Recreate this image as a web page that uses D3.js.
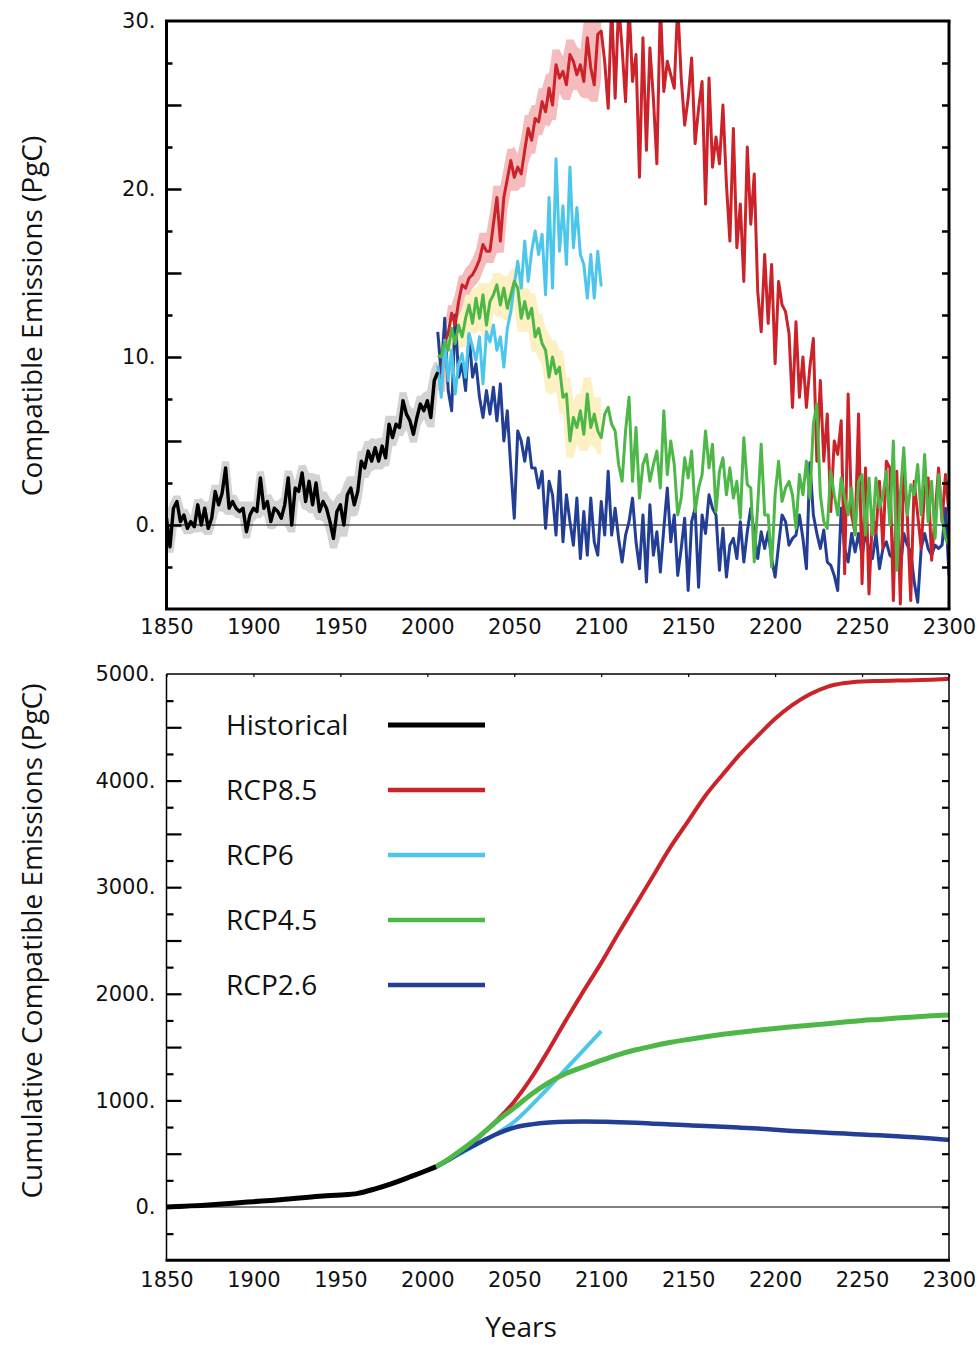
<!DOCTYPE html>
<html>
<head>
<meta charset="utf-8">
<script src="https://cdn.jsdelivr.net/npm/d3@7"></script>
<style>
  body { margin: 0; background: #fff; }
  .tick text { font-family: "DejaVu Sans", sans-serif; font-size: 21px; fill: #111; }
  .axis-title { font-family: "Open Sans", sans-serif; font-size: 28px; fill: #111; }
  .legend text { font-family: "Open Sans", sans-serif; font-size: 28px; fill: #111; }
</style>
</head>
<body>
<svg id="chart" width="980" height="1345"></svg>
<script>
// annual compatible emissions (PgC), one value every 2 years
const histStart = 1850, scenStart = 2006, yearStep = 2

const histEmis = [
  0.4, -1.3, 1.0, 1.4, 0.2, 0.6, -0.2, 0.2, -0.1, 1.2,
  0.0, 1.0, -0.2, 0.4, 2.0, 1.2, 1.9, 3.4, 1.0, 1.4,
  1.0, 0.8, 1.0, -0.4, 0.6, 1.0, 0.8, 2.8, 1.0, 1.4,
  0.2, 1.0, 0.8, 0.4, 1.2, 2.8, 0.0, 2.2, 2.0, 3.1,
  1.4, 2.6, 1.2, 2.5, 0.8, 1.4, 1.0, 0.2, -0.8, 0.8,
  1.2, 0.0, 1.8, 2.2, 1.2, 2.0, 3.8, 3.4, 4.4, 3.8,
  4.6, 3.8, 4.7, 4.0, 6.0, 5.2, 6.0, 5.8, 7.4, 6.6,
  6.2, 5.4, 6.4, 7.2, 6.8, 7.4, 6.4, 8.6, 9.1]

const rcp85Emis = [
  9.0, 8.4, 10.9, 11.4, 12.6, 11.9, 13.3, 14.3, 14.1, 14.7,
  14.9, 15.3, 15.8, 16.7, 16.3, 16.3, 17.9, 19.5, 16.9, 19.5,
  20.6, 21.7, 20.7, 21.3, 20.9, 22.3, 23.6, 22.9, 24.2, 24.0,
  25.2, 24.6, 26.0, 25.0, 27.4, 26.6, 27.0, 26.2, 28.0, 27.6,
  26.8, 27.4, 26.4, 29.0, 27.2, 26.2, 29.2, 29.4, 27.6, 24.8,
  31.0, 25.4, 31.0, 28.4, 25.2, 31.0, 26.4, 28.0, 20.7, 29.0,
  22.3, 28.4, 25.4, 21.5, 31.0, 25.8, 27.6, 26.8, 26.0, 31.0,
  26.6, 23.8, 25.4, 27.8, 22.7, 24.8, 26.4, 19.1, 26.6, 21.3,
  23.1, 21.5, 25.0, 20.3, 16.9, 23.6, 16.5, 19.1, 14.5, 22.5,
  17.9, 20.9, 13.9, 11.5, 16.1, 12.0, 15.5, 9.6, 14.5, 13.1,
  12.7, 11.4, 7.0, 12.1, 7.6, 10.0, 7.0, 9.4, 11.1, 3.8,
  8.6, 3.8, 6.6, 0.8, 5.0, 4.2, 6.2, -2.9, 7.8, 0.6,
  -0.5, 6.6, -3.5, 3.4, -4.1, 0.6, -0.5, 2.6, -1.4, 3.8,
  3.4, -4.5, 3.2, -4.7, 3.2, 0.6, -4.5, 2.6, 0.6, -1.4,
  2.2, 2.8, -2.1, 0.6, 3.4, 0.2, 3.0, 0.6]

const rcp6Emis = [
  9.5, 7.6, 11.0, 8.6, 10.4, 7.8, 9.6, 10.2, 8.8, 11.4,
  10.6, 9.8, 11.2, 8.4, 11.5, 10.9, 11.9, 10.4, 11.2, 9.4,
  11.7, 12.7, 14.3, 15.7, 14.1, 16.9, 14.5, 16.3, 17.5, 16.1,
  17.3, 13.7, 19.5, 14.1, 21.8, 16.3, 19.0, 15.5, 21.3, 16.5,
  18.9, 16.1, 15.5, 13.5, 16.1, 13.5, 16.3, 14.2]

const rcp45Emis = [
  10.1, 10.0, 10.9, 10.4, 11.7, 10.8, 11.9, 11.2, 12.3, 13.1,
  12.0, 13.5, 12.3, 13.7, 11.9, 13.3, 13.7, 14.3, 13.1, 14.1,
  12.9, 13.7, 14.5, 14.1, 12.3, 13.3, 12.3, 12.9, 11.2, 11.7,
  10.8, 10.4, 8.8, 10.0, 9.0, 9.4, 7.6, 7.8, 5.0, 6.4,
  5.8, 6.8, 5.4, 7.8, 5.8, 6.6, 5.6, 5.2, 6.6, 7.0,
  6.0, 5.6, 3.6, 2.6, 5.6, 7.6, 2.6, 5.8, 1.6, 3.6,
  4.2, 2.6, 3.6, 4.4, 2.2, 6.8, 3.0, 5.0, 3.6, 0.6,
  1.6, 4.0, 2.8, 4.4, 0.8, 2.2, 3.0, 5.6, 3.4, 4.8,
  0.8, 3.2, 4.0, 1.8, 3.4, 1.6, 2.6, 0.4, 5.2, 2.4,
  2.2, -2.2, 1.2, 4.8, 0.6, 0.6, -2.5, 1.8, 3.8, 1.4,
  2.2, 2.6, 1.8, -0.2, 3.0, 1.8, 3.8, 1.6, 6.0, 7.2,
  1.8, 0.2, -0.2, 3.2, 1.8, 0.6, 2.8, 1.6, 0.6, 2.2,
  -0.6, 2.6, 3.0, -0.6, 2.8, -0.6, 2.8, 1.0, 1.8, 3.2,
  0.0, 5.0, -2.7, 1.8, 4.6, 0.6, 2.4, 1.8, 3.6, 0.6,
  4.2, 0.2, 2.6, -0.8, 3.0, 0.4, -0.8, -1.2]

const rcp26Emis = [
  11.5, 9.0, 12.3, 8.0, 6.8, 12.5, 8.8, 9.6, 8.0, 11.3,
  8.8, 9.6, 7.6, 6.4, 8.0, 6.6, 8.2, 6.2, 8.4, 5.0,
  6.8, 3.4, 0.4, 5.6, 5.0, 3.8, 5.2, 3.4, 3.4, 2.2,
  3.2, -0.2, 2.6, 1.8, -0.6, 3.2, -1.0, 1.8, 0.2, -1.2,
  1.6, -2.0, 0.8, -1.8, 1.6, -1.0, -1.8, 1.4, -0.6, 3.2,
  -0.6, 1.0, -0.8, -2.2, -0.6, 0.2, 1.6, -1.0, -2.6, 0.6,
  -3.4, 1.2, -1.8, -0.4, -2.8, -0.2, 2.2, -1.0, 0.6, -3.0,
  -1.4, 0.4, -3.9, 0.2, 1.0, -3.7, 0.6, -0.5, 1.8, 1.0,
  0.6, -2.7, -0.2, -3.1, -1.2, -0.8, -2.0, 0.2, -2.2, -0.4,
  1.0, -0.5, -2.0, -0.4, -1.4, -0.4, -2.0, -3.1, -1.2, 0.6,
  0.2, -1.2, -0.8, -0.6, 0.6, -0.8, -2.6, 3.7, 0.6, -0.5,
  -1.4, -0.3, -2.2, -2.4, -3.0, -3.9, 1.0, -1.4, -2.2, -0.5,
  -1.6, -0.5, -1.8, -0.5, -1.4, -2.0, -0.5, -2.6, -1.4, -1.0,
  -1.8, -2.0, -0.5, -2.7, -0.5, -1.2, -1.6, -3.4, -4.6, -1.4,
  -0.5, -1.4, -1.8, -1.2, -1.4, -1.2, 1.0, -3.0]

// half-width of the shaded ranges, one value per decade
const histSpread = [0.35, 0.35, 0.4, 0.4, 0.4, 0.4, 0.45, 0.45, 0.5, 0.6, 0.7, 0.6, 0.5, 0.5, 0.5, 0.6]
const rcp85Spread = [0.4, 0.5, 0.6, 0.7, 0.7, 0.8, 0.8, 0.9, 0.9, 1.0, 1.0]
const rcp45Spread = [0.4, 0.5, 0.6, 0.7, 0.7, 0.8, 0.9, 1.0, 1.0, 1.0, 1.0]

// cumulative emissions (PgC)
const cumHistYears = [1850, 1860, 1870, 1880, 1890, 1900, 1910, 1920, 1930, 1940, 1950, 1960, 1970, 1980, 1990, 2000, 2005]
const cumHist = [0, 8, 15, 25, 38, 50, 62, 75, 90, 103, 112, 128, 170, 222, 282, 345, 378]
const cumScenYears = [2005, 2010, 2020, 2030, 2040, 2050, 2060, 2070, 2080, 2090, 2100,
  2110, 2120, 2130, 2140, 2150, 2160, 2170, 2180, 2190, 2200,
  2210, 2220, 2230, 2240, 2250, 2260, 2270, 2280, 2290, 2300]
const cumRcp85 = [378, 425, 535, 660, 815, 990, 1215, 1480, 1760, 2030, 2290,
  2570, 2840, 3110, 3380, 3620, 3860, 4060, 4250, 4420, 4580,
  4710, 4810, 4880, 4915, 4930, 4935, 4938, 4942, 4947, 4955]
const cumRcp6 = [378, 422, 510, 600, 690, 800, 955, 1125, 1300, 1475, 1650]
const cumRcp45 = [378, 425, 540, 665, 805, 930, 1060, 1170, 1255, 1315, 1375,
  1430, 1475, 1512, 1545, 1572, 1597, 1620, 1640, 1658, 1675,
  1690, 1705, 1720, 1735, 1750, 1760, 1772, 1783, 1793, 1802]
const cumRcp26 = [378, 422, 520, 605, 685, 745, 775, 792, 800, 802, 800,
  796, 790, 782, 774, 767, 760, 752, 744, 736, 725,
  714, 705, 697, 689, 680, 672, 663, 654, 643, 630]

const legendNames = ["Historical", "RCP8.5", "RCP6", "RCP4.5", "RCP2.6"]
const xTicks = [1850, 1900, 1950, 2000, 2050, 2100, 2150, 2200, 2250, 2300]

const colors = {hist: "#000000", rcp85: "#cc2229", rcp6: "#4dc6ec", rcp45: "#4db848", rcp26: "#233f95"}
const legendColors = [colors.hist, colors.rcp85, colors.rcp6, colors.rcp45, colors.rcp26]

var frame = {left: 166.5, right: 949, topT: 21, bottomT: 609, topB: 674, bottomB: 1260.3}

var x = d3.scaleLinear().domain([1850, 2300]).range([frame.left, frame.right])
var yTop = d3.scaleLinear().domain([-5, 30]).range([frame.bottomT, frame.topT])
var yBot = d3.scaleLinear().domain([-500, 5000]).range([frame.bottomB, frame.topB])

var svg = d3.select("#chart")

function toPoints(values, start) {
  return values.map((v, i) => ({year: start + i * yearStep, v: v}))
}
function toCum(years, values) {
  return values.map((v, i) => ({year: years[i], v: v}))
}
// shaded range: envelope of neighbouring years plus the decade spread
function bandPoints(values, start, spread, spreadStart, lastYear) {
  var out = []
  values.forEach((v, i) => {
    var year = start + i * yearStep
    if (year > lastYear) return
    var nb = values.slice(Math.max(0, i - 1), i + 2)
    var s = spread[Math.min(spread.length - 1, Math.floor((year - spreadStart) / 10))]
    out.push({year: year, lo: d3.min(nb) - s, hi: d3.max(nb) + s})
  })
  return out
}

var defs = svg.append("defs")
defs.append("clipPath").attr("id", "clipTop").append("rect")
  .attr("x", frame.left).attr("y", frame.topT)
  .attr("width", frame.right - frame.left).attr("height", frame.bottomT - frame.topT)
defs.append("clipPath").attr("id", "clipBot").append("rect")
  .attr("x", frame.left).attr("y", frame.topB)
  .attr("width", frame.right - frame.left).attr("height", frame.bottomB - frame.topB)

// ---------- top panel ----------
var topPanel = svg.append("g").attr("clip-path", "url(#clipTop)")

var area = d3.area()
  .x(d => x(d.year))
  .y0(d => yTop(d.lo))
  .y1(d => yTop(d.hi))

topPanel.append("path").datum(bandPoints(histEmis, histStart, histSpread, 1850, 2006))
  .attr("d", area).attr("fill", "#d3d3d3")
topPanel.append("path").datum(bandPoints(rcp85Emis, scenStart, rcp85Spread, 2000, 2100))
  .attr("d", area).attr("fill", "#f4bcbc")
topPanel.append("path").datum(bandPoints(rcp45Emis, scenStart, rcp45Spread, 2000, 2100))
  .attr("d", area).attr("fill", "#fdf0c2")

topPanel.append("line")
  .attr("x1", frame.left).attr("x2", frame.right)
  .attr("y1", yTop(0)).attr("y2", yTop(0))
  .attr("stroke", "#000").attr("stroke-width", 1.2)

var lineTop = d3.line().x(d => x(d.year)).y(d => yTop(d.v))

const topSeries = [
  {data: toPoints(rcp26Emis, scenStart), color: colors.rcp26, w: 3},
  {data: toPoints(rcp85Emis, scenStart), color: colors.rcp85, w: 3},
  {data: toPoints(rcp6Emis, scenStart), color: colors.rcp6, w: 3},
  {data: toPoints(rcp45Emis, scenStart), color: colors.rcp45, w: 3},
  {data: toPoints(histEmis, histStart), color: colors.hist, w: 3.4}
]
topSeries.forEach(s => {
  topPanel.append("path").datum(s.data)
    .attr("d", lineTop)
    .attr("fill", "none")
    .attr("stroke", s.color)
    .attr("stroke-width", s.w)
    .attr("stroke-linejoin", "round")
})

// ---------- bottom panel ----------
var botPanel = svg.append("g").attr("clip-path", "url(#clipBot)")

botPanel.append("line")
  .attr("x1", frame.left).attr("x2", frame.right)
  .attr("y1", yBot(0)).attr("y2", yBot(0))
  .attr("stroke", "#000").attr("stroke-width", 1.2)

var lineBot = d3.line().x(d => x(d.year)).y(d => yBot(d.v)).curve(d3.curveMonotoneX)

const botSeries = [
  {data: toCum(cumScenYears, cumRcp85), color: colors.rcp85, w: 4},
  {data: toCum(cumScenYears, cumRcp6), color: colors.rcp6, w: 4},
  {data: toCum(cumScenYears, cumRcp26), color: colors.rcp26, w: 4.5},
  {data: toCum(cumScenYears, cumRcp45), color: colors.rcp45, w: 5},
  {data: toCum(cumHistYears, cumHist), color: colors.hist, w: 5}
]
botSeries.forEach(s => {
  botPanel.append("path").datum(s.data)
    .attr("d", lineBot)
    .attr("fill", "none")
    .attr("stroke", s.color)
    .attr("stroke-width", s.w)
    .attr("stroke-linecap", "butt")
})

// ---------- axes ----------
function ticks(g, axis, sw) {
  g.call(axis)
  g.select(".domain").remove()
  g.selectAll(".tick line").attr("stroke", "#000").attr("stroke-width", sw)
}

// top panel ticks
ticks(svg.append("g").attr("transform", `translate(${frame.left},0)`),
  d3.axisRight(yTop).tickValues([0, 5, 10, 15, 20, 25]).tickSize(15).tickFormat(""), 2.5)
ticks(svg.append("g").attr("transform", `translate(${frame.left},0)`),
  d3.axisRight(yTop).tickValues([-2.5, 2.5, 7.5, 12.5, 17.5, 22.5, 27.5]).tickSize(6).tickFormat(""), 2.5)
ticks(svg.append("g").attr("transform", `translate(${frame.right},0)`),
  d3.axisLeft(yTop).tickValues(d3.range(-2.5, 30, 2.5)).tickSize(7).tickFormat(""), 2.5)

var yLabTop = svg.append("g").attr("transform", `translate(${frame.left},0)`)
  .call(d3.axisLeft(yTop).tickValues([0, 10, 20, 30]).tickSize(0).tickPadding(11).tickFormat(d => d + "."))
yLabTop.select(".domain").remove()

var xLabTop = svg.append("g").attr("transform", `translate(0,${frame.bottomT})`)
  .call(d3.axisBottom(x).tickValues(xTicks).tickSize(0).tickPadding(10).tickFormat(d3.format("d")))
xLabTop.select(".domain").remove()

// bottom panel ticks
ticks(svg.append("g").attr("transform", `translate(${frame.left},0)`),
  d3.axisRight(yBot).tickValues(d3.range(0, 5000, 500)).tickSize(15).tickFormat(""), 2.2)
ticks(svg.append("g").attr("transform", `translate(${frame.left},0)`),
  d3.axisRight(yBot).tickValues(d3.range(-250, 5000, 500)).tickSize(7).tickFormat(""), 2.2)
ticks(svg.append("g").attr("transform", `translate(${frame.right},0)`),
  d3.axisLeft(yBot).tickValues(d3.range(-250, 5000, 250)).tickSize(7).tickFormat(""), 2.2)
ticks(svg.append("g").attr("transform", `translate(0,${frame.topB})`),
  d3.axisBottom(x).tickValues(xTicks).tickSize(3).tickFormat(""), 1.2)

var yLabBot = svg.append("g").attr("transform", `translate(${frame.left},0)`)
  .call(d3.axisLeft(yBot).tickValues([0, 1000, 2000, 3000, 4000, 5000]).tickSize(0).tickPadding(11).tickFormat(d => d + "."))
yLabBot.select(".domain").remove()

var xLabBot = svg.append("g").attr("transform", `translate(0,${frame.bottomB})`)
  .call(d3.axisBottom(x).tickValues(xTicks).tickSize(0).tickPadding(12).tickFormat(d3.format("d")))
xLabBot.select(".domain").remove()

// ---------- frames ----------
function hline(y, x1, x2, w) {
  svg.append("line").attr("x1", x1).attr("x2", x2).attr("y1", y).attr("y2", y)
    .attr("stroke", "#000").attr("stroke-width", w)
}
function vline(xp, y1, y2, w) {
  svg.append("line").attr("x1", xp).attr("x2", xp).attr("y1", y1).attr("y2", y2)
    .attr("stroke", "#000").attr("stroke-width", w)
}
hline(frame.topT, frame.left - 1.5, frame.right + 1.5, 3)
hline(frame.bottomT, frame.left - 1.5, frame.right + 1.5, 3)
vline(frame.left, frame.topT, frame.bottomT, 3)
vline(frame.right, frame.topT, frame.bottomT, 3)

hline(frame.topB, frame.left, frame.right, 1.5)
hline(frame.bottomB, frame.left - 1, frame.right + 1, 3)
vline(frame.left, frame.topB, frame.bottomB, 1.5)
vline(frame.right, frame.topB, frame.bottomB, 1.5)

// ---------- titles ----------
svg.append("text")
  .attr("class", "axis-title")
  .attr("text-anchor", "middle")
  .attr("transform", `translate(42, 316) rotate(-90)`)
  .text("Compatible Emissions (PgC)")

svg.append("text")
  .attr("class", "axis-title")
  .attr("text-anchor", "middle")
  .attr("transform", `translate(42, 941) rotate(-90)`)
  .text("Cumulative Compatible Emissions (PgC)")

svg.append("text")
  .attr("class", "axis-title")
  .attr("text-anchor", "middle")
  .attr("x", 521).attr("y", 1337)
  .text("Years")

// ---------- legend ----------
var legend = svg.append("g").attr("class", "legend")
legendNames.forEach((name, i) => {
  var yy = 725 + i * 65
  legend.append("text").attr("x", 226).attr("y", yy + 10).text(name)
  legend.append("line")
    .attr("x1", 388).attr("x2", 485)
    .attr("y1", yy).attr("y2", yy)
    .attr("stroke", legendColors[i])
    .attr("stroke-width", i === 0 ? 5 : 4.5)
})
</script>
</body>
</html>
